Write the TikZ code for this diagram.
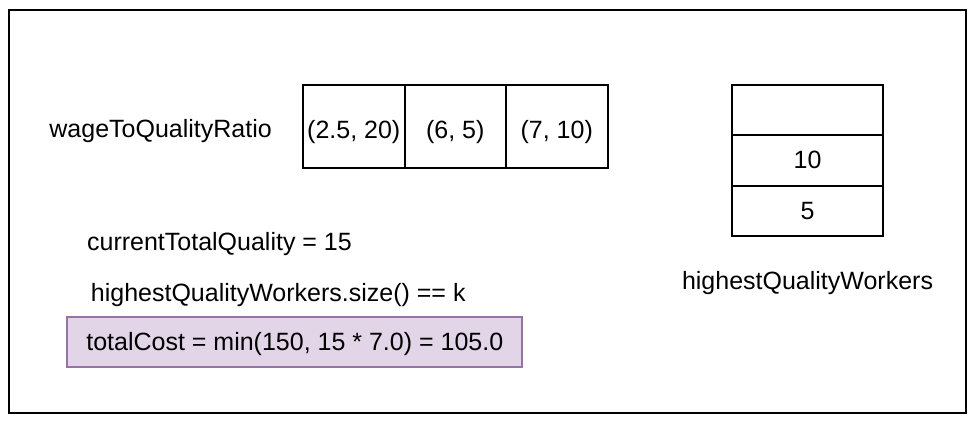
\documentclass[tikz,border=0pt]{standalone}
\usepackage{fontspec}
\setmainfont{Liberation Sans}
\usepackage{xcolor}
\usepackage{tikz}
\usetikzlibrary{positioning}
\definecolor{lilacfill}{HTML}{E1D5E7}
\definecolor{lilacdraw}{HTML}{9673A6}

\begin{document}
\begin{tikzpicture}[x=0.5pt,y=-0.5pt,font=\fontsize{12.5}{15}\selectfont]
  \useasboundingbox (0,0) rectangle (977,423);
    \tikzstyle{rcell}=[draw=black,line width=1pt,inner sep=0pt,minimum width=50.75pt,minimum height=41.5pt,text height=12.6pt,text depth=1pt]
    \tikzstyle{scell}=[draw=black,line width=1pt,inner sep=0pt,minimum width=75.8pt,minimum height=25.3pt,text height=9.4pt,text depth=1pt]
    \tikzstyle{plain}=[inner sep=0pt,anchor=base west]

  \node (frame) at (487.5,211.25) [draw=black,line width=1pt,minimum width=478.5pt,minimum height=201.25pt,inner sep=0pt] {};

  \node (ratio) at (49,137) [plain] {wageToQualityRatio};
    \node (r1) at (353.75,126.5) [rcell] {(2.5, 20)};
    \node (r2) at (455.25,126.5) [rcell] {(6, 5)};
    \node (r3) at (556.75,126.5) [rcell] {(7, 10)};

    \node (s1) at (807.5,109.8) [scell] {};
    \node (s2) at (807.5,160.4) [scell] {10};
    \node (s3) at (807.5,211) [scell] {5};
  \node (heap) at (807.5,289.3) [inner sep=0pt,anchor=base] {highestQualityWorkers};

  \node (quality) at (86.7,250.7) [plain] {currentTotalQuality = 15};
  \node (size) at (90.5,301) [plain] {highestQualityWorkers.size() == k};
  \node (cost) at (294.8,342) [draw=lilacdraw,fill=lilacfill,line width=1pt,inner sep=0pt,minimum width=227.5pt,minimum height=25.3pt,text height=9pt,text depth=1pt] {totalCost = min(150, 15 * 7.0) = 105.0};
    \end{tikzpicture}
\end{document}
